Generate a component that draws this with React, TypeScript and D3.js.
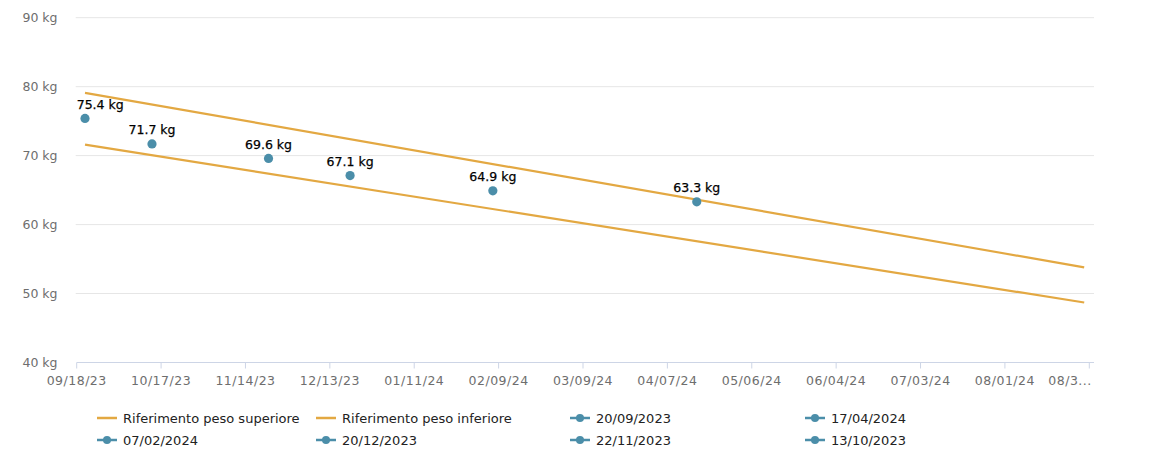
import React from "react";
import * as d3 from "d3";

// ---- data ----
const pointDates = ["20/09/2023", "13/10/2023", "22/11/2023", "20/12/2023", "07/02/2024", "17/04/2024"];
const pointValues = [75.4, 71.7, 69.6, 67.1, 64.9, 63.3];

const refDates = ["20/09/2023", "28/08/2024"];
const refUpper = [79.1, 53.8];
const refLower = [71.6, 48.7];

const legendItems = [
  "Riferimento peso superiore",
  "Riferimento peso inferiore",
  "20/09/2023",
  "17/04/2024",
  "07/02/2024",
  "20/12/2023",
  "22/11/2023",
  "13/10/2023",
];

const xTickLabels = [
  "09/18/23", "10/17/23", "11/14/23", "12/13/23", "01/11/24", "02/09/24", "03/09/24",
  "04/07/24", "05/06/24", "06/04/24", "07/03/24", "08/01/24", "08/3...",
];
const yTicks = [40, 50, 60, 70, 80, 90];
const xDomain = ["2023-09-17T03:36", "2024-08-29T18:00"];

// ---- styles ----
const W = 1166, H = 472;
const left = 76.7, right = 1089.3, axisEnd = 1094;
const top = 17.7, bottom = 362.5;
const GOLD = "#e3a842";
const TEAL = "#4b8ea9";
const FONT = "'DejaVu Sans', sans-serif";

const parse = d3.timeParse("%d/%m/%Y");
const parseIso = d3.timeParse("%Y-%m-%dT%H:%M");

export default function App() {
  const x = d3.scaleTime()
    .domain([parseIso(xDomain[0])!, parseIso(xDomain[1])!])
    .range([left, right]);
  const y = d3.scaleLinear().domain([40, 90]).range([bottom, top]);
  const tickX = d3.scalePoint<string>().domain(xTickLabels).range([left, right]);

  const line = d3.line<[Date, number]>().x(d => x(d[0])).y(d => y(d[1]));
  const upperData: [Date, number][] = refDates.map((d, i) => [parse(d)!, refUpper[i]]);
  const lowerData: [Date, number][] = refDates.map((d, i) => [parse(d)!, refLower[i]]);

  const points = pointDates.map((d, i) => ({ x: x(parse(d)!), y: y(pointValues[i]), v: pointValues[i] }));

  const legendCols = [97, 316, 570, 805];
  const legendRows = [418, 440];

  return (
    <svg width={W} height={H} style={{ position: "absolute", left: 0, top: 0, background: "#fff" }}>
      {/* grid */}
      {yTicks.map(t => (
        <g key={t}>
          {t !== 40 && (
            <line x1={left - 1} x2={axisEnd} y1={y(t)} y2={y(t)} stroke="#e6e6e6" strokeWidth={1} />
          )}
          <text x={57.5} y={y(t)} dy="0.35em" textAnchor="end" fontFamily={FONT} fontSize={12.5} fill="#6e6e6e">
            {`${t} kg`}
          </text>
        </g>
      ))}
      {/* x axis */}
      <line x1={left} x2={axisEnd} y1={bottom} y2={bottom} stroke="#cdd5e6" strokeWidth={1} />
      {xTickLabels.map((lab, i) => {
        const tx = tickX(lab)!;
        const last = i === xTickLabels.length - 1;
        return (
          <g key={lab}>
            <line x1={tx} x2={tx} y1={bottom} y2={bottom + 6} stroke="#cdd5e6" strokeWidth={1} />
            <text x={last ? tx + 2.5 : tx} y={381} dy="0.35em" textAnchor={last ? "end" : "middle"}
              fontFamily={FONT} fontSize={12.5} letterSpacing={0.5} fill="#6e6e6e">{lab}</text>
          </g>
        );
      })}
      {/* reference lines */}
      <path d={line(upperData)!} fill="none" stroke={GOLD} strokeWidth={2.2} />
      <path d={line(lowerData)!} fill="none" stroke={GOLD} strokeWidth={2.2} />
      {/* points */}
      {points.map((p, i) => {
        const label = `${p.v} kg`;
        const w = 47;
        const clamp = p.x - w / 2 < left;
        return (
          <g key={i}>
            <circle cx={p.x} cy={p.y} r={4.6} fill={TEAL} />
            <text x={clamp ? left : p.x} y={p.y - 9.5} textAnchor={clamp ? "start" : "middle"}
              fontFamily={FONT} fontSize={12.5} fill="#000" stroke="#000" strokeWidth={0.25}>{label}</text>
          </g>
        );
      })}
      {/* legend */}
      {legendItems.map((name, i) => {
        const cx = legendCols[i % 4];
        const cy = legendRows[Math.floor(i / 4)];
        const isRef = i < 2;
        return (
          <g key={name}>
            <line x1={cx} x2={cx + 20} y1={cy} y2={cy} stroke={isRef ? GOLD : TEAL} strokeWidth={2.5} />
            {!isRef && <circle cx={cx + 10} cy={cy} r={4} fill={TEAL} />}
            <text x={cx + 26} y={cy} dy="0.35em" fontFamily={FONT} fontSize={13} fill="#222">{name}</text>
          </g>
        );
      })}
    </svg>
  );
}
